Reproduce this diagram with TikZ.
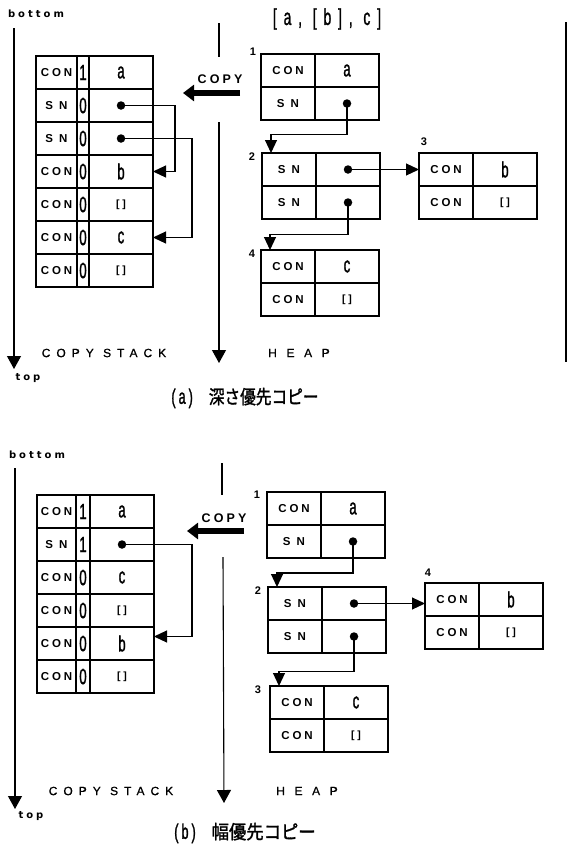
\documentclass[tikz,border=0pt]{standalone}
\usepackage{fontspec}
\usepackage{graphicx}
\setmainfont{Liberation Sans}
\newfontfamily\condf[FakeStretch=0.6,FakeBold=1.2]{Liberation Sans}
\newfontfamily\titlef[FakeStretch=0.6,FakeBold=1.2,LetterSpace=30]{Liberation Sans}
\newfontfamily\labf[LetterSpace=25]{Liberation Sans}
\newfontfamily\smallf[LetterSpace=30]{DejaVu Sans}
\newfontfamily\widef[LetterSpace=50,FakeBold=0.8]{Liberation Sans}
\newfontfamily\heapf[LetterSpace=80,FakeBold=0.8]{Liberation Sans}
\newfontfamily\jpf[FakeBold=1.5]{Noto Sans CJK JP}
\usetikzlibrary{arrows.meta,calc}

\newcommand\val[1]{{\condf\fontsize{22}{22}\selectfont #1}}
\newcommand\nil{{\bfseries\fontsize{10.5}{10.5}\selectfont[\hspace{3pt}]}}

% stack row: prefix, x, y, w1, w2, w3, label, number, value
\newcommand\srow[9]{%
  \node[cell,lcell,minimum width=#4pt] (#1l) at (#2,#3) {#7};
  \node[cell,minimum width=#5pt] (#1n) at (#1l.north east) {\val{#8}};
  \node[cell,minimum width=#6pt] (#1v) at (#1n.north east) {#9};
}
% heap cell pair: prefix, x, y, label1, value1, label2, value2
\newcommand\hnode[7]{%
  \node[cell,lcell,minimum width=54pt] (#1a) at (#2,#3) {#4};
  \node[cell,minimum width=64pt] (#1b) at (#1a.north east) {#5};
  \node[cell,lcell,minimum width=54pt] (#1c) at (#1a.south west) {#6};
  \node[cell,minimum width=64pt] (#1d) at (#1c.north east) {#7};
}

\begin{document}
\begin{tikzpicture}[x=1pt,y=-1pt,
  cell/.style={draw, line width=1.3pt, inner sep=0pt, outer sep=0pt,
    anchor=north west, minimum height=33pt},
  lcell/.style={font=\labf\bfseries\fontsize{11.5}{11.5}\selectfont},
  dot/.style={circle, fill=black, inner sep=0pt, minimum size=8.5pt},
  ptr/.style={line width=1.1pt, -{Triangle[length=13pt,width=12pt]}},
  axis/.style={line width=1.1pt, -{Triangle[length=13pt,width=14pt]}},
  thinline/.style={line width=1.1pt},
  copyarr/.style={line width=6pt, -{Triangle[length=11pt,width=16pt]}},
  smallbold/.style={font=\smallf\bfseries\fontsize{10}{10}\selectfont},
  numlab/.style={font=\bfseries\fontsize{11}{11}\selectfont},
  copylab/.style={font=\labf\bfseries\fontsize{12.5}{12.5}\selectfont},
  stacklab/.style={font=\widef\fontsize{12}{12}\selectfont},
  heaplab/.style={font=\heapf\fontsize{12}{12}\selectfont},
  titlelab/.style={font=\titlef\fontsize{23}{23}\selectfont},
]
\fill[white] (0,0) rectangle (569,862);
\useasboundingbox (0,0) rectangle (569,862);

% ================= (a) depth-first =================
\node[smallbold] (bot1) at (36,14) {bottom};
\coordinate (ax1s) at (14,28);
\coordinate (ax1e) at (14,369);
\draw[axis] (ax1s) -- (ax1e);
\node[smallbold] (top1) at (28,378) {top};

\coordinate (hx1a) at (219,23);
\coordinate (hx1b) at (219,57);
\coordinate (hx1c) at (219,122);
\coordinate (hx1d) at (219,363);
\draw[thinline] (hx1a) -- (hx1b);
\draw[axis] (hx1c) -- (hx1d);

\coordinate (r1a) at (566,22);
\coordinate (r1b) at (566,362);
\draw[thinline] (r1a) -- (r1b);

\node[titlelab] (title) at (327,19) {[a, [b], c]};

\node[copylab] (copy1) at (220,79) {COPY};
\coordinate (cp1s) at (240,93);
\coordinate (cp1e) at (183,93);
\draw[copyarr] (cp1s) -- (cp1e);

% stack (a)
\srow{sa1}{36}{56}{41}{12}{64}{CON}{1}{\val{a}}
\srow{sa2}{36}{89}{41}{12}{64}{S N}{0}{}
\srow{sa3}{36}{122}{41}{12}{64}{S N}{0}{}
\srow{sa4}{36}{155}{41}{12}{64}{CON}{0}{\val{b}}
\srow{sa5}{36}{188}{41}{12}{64}{CON}{0}{\nil}
\srow{sa6}{36}{221}{41}{12}{64}{CON}{0}{\val{c}}
\srow{sa7}{36}{254}{41}{12}{64}{CON}{0}{\nil}
\node[dot] (pa2) at (sa2v.center) {};
\node[dot] (pa3) at (sa3v.center) {};
\draw[ptr] (pa2.center) -- ++(54,0) |- (sa4v.east);
\draw[ptr] (pa3.center) -- ++(71,0) |- (sa6v.east);

% heap (a)
\hnode{ha1}{261}{54}{CON}{\val{a}}{S N}{}
\hnode{ha2}{262}{153}{S N}{}{S N}{}
\hnode{ha3}{419}{153}{CON}{\val{b}}{CON}{\nil}
\hnode{ha4}{261}{250}{CON}{\val{c}}{CON}{\nil}
\node[numlab] (na1) at (253,52) {1};
\node[numlab] (na2) at (252,157) {2};
\node[numlab] (na3) at (424,142) {3};
\node[numlab] (na4) at (252,254) {4};
\node[dot] (qa1) at (ha1d.center) {};
\node[dot] (qa2) at (ha2b.center) {};
\node[dot] (qa3) at (ha2d.center) {};
\draw[ptr] (qa1.center) -- ++(0,31) -| ([xshift=9pt]ha2a.north west);
\draw[ptr] (qa2.center) -- (qa2.center -| ha3a.west);
\draw[ptr] (qa3.center) -- ++(0,32) -| ([xshift=9pt]ha4a.north west);

\node[stacklab] (csa) at (104,353) {COPY STACK};
\node[heaplab] (hpa) at (299,353) {HEAP};
\node (capa) at (245,398) {{\condf\fontsize{21}{21}\selectfont (\hspace{3pt}a\hspace{3pt})}\hspace{16pt}\scalebox{0.95}[1.15]{\jpf\fontsize{16.5}{16.5}\selectfont 深さ優先コピー}};

% ================= (b) breadth-first =================
\node[smallbold] (bot2) at (37,455) {bottom};
\coordinate (ax2s) at (15,468);
\coordinate (ax2e) at (15,809);
\draw[axis] (ax2s) -- (ax2e);
\node[smallbold] (top2) at (31,816) {top};

\coordinate (hx2a) at (222,463);
\coordinate (hx2b) at (222,495);
\coordinate (hx2c) at (223,557);
\coordinate (hx2d) at (224,803);
\draw[thinline] (hx2a) -- (hx2b);
\draw[axis] (hx2c) -- (hx2d);

\node[copylab] (copy2) at (224,518) {COPY};
\coordinate (cp2s) at (244,531);
\coordinate (cp2e) at (187,531);
\draw[copyarr] (cp2s) -- (cp2e);

% stack (b)
\srow{sb1}{37}{495}{39}{14}{64}{CON}{1}{\val{a}}
\srow{sb2}{37}{528}{39}{14}{64}{S N}{1}{}
\srow{sb3}{37}{561}{39}{14}{64}{CON}{0}{\val{c}}
\srow{sb4}{37}{594}{39}{14}{64}{CON}{0}{\nil}
\srow{sb5}{37}{627}{39}{14}{64}{CON}{0}{\val{b}}
\srow{sb6}{37}{660}{39}{14}{64}{CON}{0}{\nil}
\node[dot] (pb2) at (sb2v.center) {};
\draw[ptr] (pb2.center) -- ++(70,0) |- ([yshift=7pt]sb5v.east);

% heap (b)
\hnode{hb1}{267}{492}{CON}{\val{a}}{S N}{}
\hnode{hb2}{268}{587}{S N}{}{S N}{}
\hnode{hb4}{425}{583}{CON}{\val{b}}{CON}{\nil}
\hnode{hb3}{270}{686}{CON}{\val{c}}{CON}{\nil}
\node[numlab] (nb1) at (257,495) {1};
\node[numlab] (nb2) at (258,591) {2};
\node[numlab] (nb4) at (428,573) {4};
\node[numlab] (nb3) at (258,690) {3};
\node[dot] (qb1) at (hb1d.center) {};
\node[dot] (qb2) at (hb2b.center) {};
\node[dot] (qb3) at (hb2d.center) {};
\draw[ptr] (qb1.center) -- ++(0,31.5) -| ([xshift=9pt]hb2a.north west);
\draw[ptr] (qb2.center) -- (qb2.center -| hb4a.west);
\draw[ptr] (qb3.center) -- ++(0,35) -| ([xshift=9pt]hb3a.north west);

\node[stacklab] (csb) at (111,791) {COPY STACK};
\node[heaplab] (hpb) at (307,791) {HEAP};
\node (capb) at (245,833) {{\condf\fontsize{21}{21}\selectfont (\hspace{3pt}b\hspace{3pt})}\hspace{16pt}\scalebox{1.05}[1.15]{\jpf\fontsize{16.5}{16.5}\selectfont 幅優先コピー}};
\end{tikzpicture}
\end{document}
